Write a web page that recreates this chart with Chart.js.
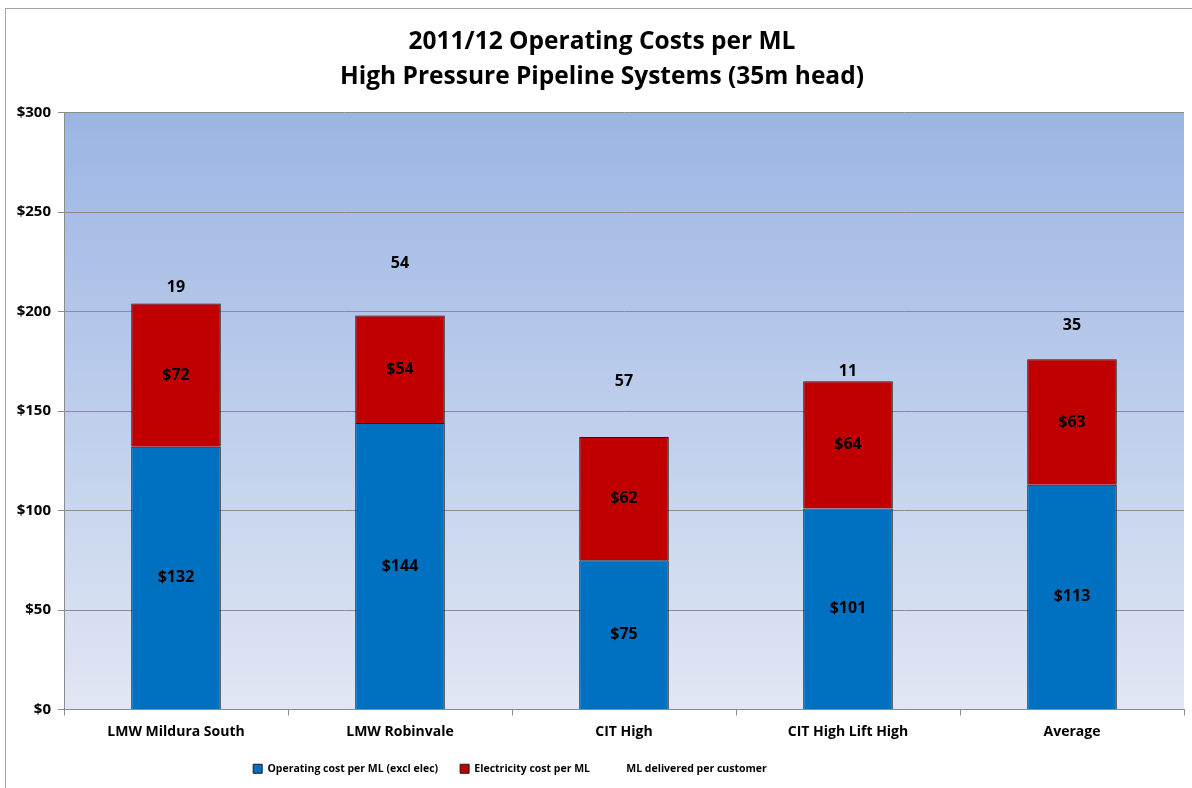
<!DOCTYPE html>
<html>
<head>
<meta charset="utf-8">
<script src="https://cdn.jsdelivr.net/npm/chart.js@4"></script>
<style>
  html, body { margin: 0; padding: 0; background: #ffffff; }
  #wrap { width: 1192px; height: 788px; position: relative; }
</style>
</head>
<body>
<div id="wrap"><canvas id="c" width="1192" height="788"></canvas></div>
<script>
// ---- data ----
const categories = ["LMW Mildura South", "LMW Robinvale", "CIT High", "CIT High Lift High", "Average"];
const operatingCost = [132, 144, 75, 101, 113];
const electricityCost = [72, 54, 62, 64, 63];
const mlPerCustomer = [19, 54, 57, 11, 35];
// label anchor level (in $ on the cost axis) where each "ML delivered per customer" label sits
const mlLabelLevel = [212, 224, 165, 170, 193];
const yTicks = [0, 50, 100, 150, 200, 250, 300];
const titleLines = ["2011/12 Operating Costs per ML", "High Pressure Pipeline Systems (35m head)"];

const FONT = "'Open Sans'";
const LEGEND_FONT = "'Open Sans'";

const bgPlugin = {
  id: 'bgPlugin',
  beforeDraw(chart) {
    const {ctx, chartArea: a} = chart;
    ctx.save();
    ctx.fillStyle = '#ffffff';
    ctx.fillRect(0, 0, chart.width, chart.height);
    // outer chart border
    ctx.strokeStyle = '#a6a6a6';
    ctx.lineWidth = 1;
    ctx.strokeRect(5.5, 8.5, 1250, 900);
    const g = ctx.createLinearGradient(0, a.top, 0, a.bottom);
    g.addColorStop(0, '#9bb5e3');
    g.addColorStop(1, '#e0e7f4');
    ctx.fillStyle = g;
    ctx.fillRect(a.left, a.top, a.right - a.left, a.bottom - a.top);
    ctx.restore();
    // nudge title and legend boxes horizontally to sit like the original
    if (chart.titleBlock && !chart.titleBlock._nudged) {
      chart.titleBlock.left += 10; chart.titleBlock.right += 10; chart.titleBlock._nudged = true;
    }
    if (chart.legend && !chart.legend._nudged) {
      chart.legend.left -= 82; chart.legend.right -= 82; chart.legend._nudged = true;
    }
  }
};

const labelPlugin = {
  id: 'labelPlugin',
  afterDatasetsDraw(chart) {
    const {ctx} = chart;
    ctx.save();
    ctx.font = "bold 16px " + FONT;
    ctx.fillStyle = '#000000';
    ctx.textAlign = 'center';
    ctx.textBaseline = 'middle';
    [0, 1].forEach(di => {
      const meta = chart.getDatasetMeta(di);
      const ds = chart.data.datasets[di];
      meta.data.forEach((el, i) => {
        const y = (el.y + el.base) / 2;
        ctx.fillText('$' + Math.round(ds.data[i]), el.x, y);
      });
    });
    const yScale = chart.scales.y;
    const meta0 = chart.getDatasetMeta(0);
    mlPerCustomer.forEach((v, i) => {
      const x = meta0.data[i].x;
      const y = yScale.getPixelForValue(mlLabelLevel[i]);
      ctx.fillText(String(v), x, y);
    });
    ctx.restore();
  }
};

new Chart(document.getElementById('c'), {
  data: {
    labels: categories,
    datasets: [
      {
        type: 'bar',
        label: 'Operating cost per ML (excl elec)',
        data: operatingCost,
        backgroundColor: '#0070c0',
        borderColor: '#1a1a1a',
        borderWidth: 1,
        barPercentage: 0.4,
        categoryPercentage: 1.0,
        stack: 's'
      },
      {
        type: 'bar',
        label: 'Electricity cost per ML',
        data: electricityCost,
        backgroundColor: '#c00000',
        borderColor: '#1a1a1a',
        borderWidth: 1,
        barPercentage: 0.4,
        categoryPercentage: 1.0,
        stack: 's'
      },
      {
        type: 'line',
        label: 'ML delivered per customer',
        data: mlPerCustomer,
        yAxisID: 'yML',
        showLine: false,
        pointRadius: 0,
        backgroundColor: 'rgba(0,0,0,0)',
        borderColor: 'rgba(0,0,0,0)',
        borderWidth: 0
      }
    ]
  },
  options: {
    responsive: false,
    animation: false,
    devicePixelRatio: 1,
    layout: { padding: { left: 0, right: 8, top: 0, bottom: 4 } },
    plugins: {
      title: {
        display: true,
        text: titleLines,
        color: '#000000',
        font: { family: FONT, size: 24.5, weight: 'bold', lineHeight: 1.42 },
        padding: { top: 25, bottom: 18 }
      },
      legend: {
        display: true,
        position: 'bottom',
        labels: {
          color: '#000000',
          font: { family: LEGEND_FONT, size: 10.5, weight: 'bold' },
          boxWidth: 9,
          boxHeight: 9,
          padding: 22,
          generateLabels(chart) {
            const items = Chart.defaults.plugins.legend.labels.generateLabels(chart);
            items.forEach((it, i) => {
              it.lineWidth = i < 2 ? 1 : 0;
              it.strokeStyle = i < 2 ? '#1a1a1a' : 'rgba(0,0,0,0)';
            });
            return items;
          }
        }
      },
      tooltip: { enabled: false }
    },
    scales: {
      x: {
        stacked: true,
        offset: true,
        grid: {
          offset: true,
          drawOnChartArea: false,
          drawTicks: true,
          tickLength: 6,
          color: '#8c8c8c'
        },
        border: { display: true, color: '#8c8c8c' },
        ticks: {
          color: '#000000',
          font: { family: FONT, size: 14, weight: 'bold' },
          padding: 8,
          maxRotation: 0
        },
        afterFit(scale) { scale.height = 32; }
      },
      y: {
        stacked: true,
        min: 0,
        max: 300,
        grid: {
          color: '#8c8c8c',
          tickLength: 6,
          drawTicks: true
        },
        border: { display: true, color: '#8c8c8c' },
        afterBuildTicks(scale) { scale.ticks = yTicks.map(v => ({ value: v })); },
        ticks: {
          color: '#000000',
          font: { family: FONT, size: 15, weight: 'bold' },
          padding: 7,
          callback: v => '$' + v
        },
        afterFit(scale) { scale.width = 64; }
      },
      yML: {
        display: false,
        min: 0,
        max: 100
      }
    }
  },
  plugins: [bgPlugin, labelPlugin]
});
</script>
</body>
</html>
